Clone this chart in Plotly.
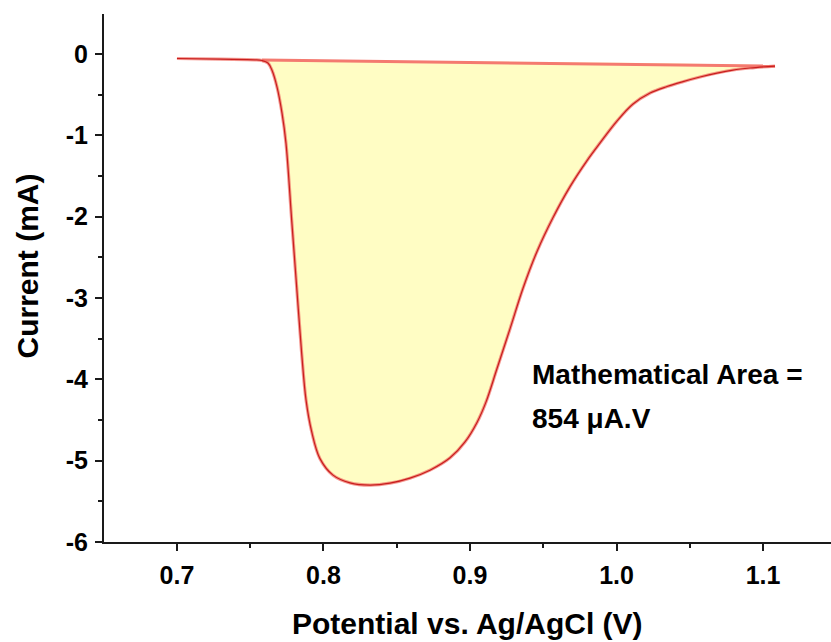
import plotly.graph_objects as go

# ---- data ----
potential = [0.700, 0.7294, 0.7532, 0.758, 0.7621, 0.7648, 0.7683, 0.7717, 0.7744,
             0.7783, 0.7817, 0.7851, 0.7881, 0.7919, 0.7976, 0.8065, 0.8181, 0.8317,
             0.8454, 0.8590, 0.8727, 0.8864, 0.8966, 0.9048, 0.9109, 0.9184, 0.9273,
             0.9362, 0.9457, 0.9567, 0.9683, 0.9799, 0.9887, 1.0003, 1.0113, 1.0229,
             1.0345, 1.0454, 1.0570, 1.0686, 1.0795, 1.0911, 1.1082]
current = [-0.055, -0.064, -0.071, -0.080, -0.111, -0.197, -0.406, -0.726, -1.095,
           -2.042, -2.866, -3.678, -4.256, -4.640, -4.975, -5.178, -5.273, -5.301,
           -5.277, -5.215, -5.117, -4.965, -4.770, -4.530, -4.280, -3.870, -3.380,
           -2.880, -2.430, -2.010, -1.630, -1.310, -1.095, -0.825, -0.615, -0.480,
           -0.400, -0.340, -0.283, -0.234, -0.197, -0.172, -0.148]

base_potential = [0.758, 1.1082]
base_current = [-0.075, -0.148]

x_ticks = [0.7, 0.8, 0.9, 1.0, 1.1]
x_ticktext = ["0.7", "0.8", "0.9", "1.0", "1.1"]
x_minor = [0.65, 0.75, 0.85, 0.95, 1.05]
top_major = [0.75, 0.85, 0.95, 1.05]
top_minor = [0.7, 0.8, 0.9, 1.0, 1.1]
y_ticks = [-6, -5, -4, -3, -2, -1, 0]
y_ticktext = ["-6", "-5", "-4", "-3", "-2", "-1", "0"]
y_minor = [-5.5, -4.5, -3.5, -2.5, -1.5, -0.5]
right_ticks = [0.2, 0.4, 0.6, 0.8]

x_range = [0.6502, 1.1464]
y_range = [-6, 0.492]

annot_line1 = "Mathematical Area ="
annot_line2 = "854 \u03bcA.V"
x_title = "Potential vs. Ag/AgCl (V)"
y_title = "Current (mA)"

FONT = "Liberation Sans, Arial, sans-serif"
AX = "#1a1a1a"
SMOOTH = 1.0

# fill polygon: curve from onset to end, closed along baseline
i0 = potential.index(base_potential[0])
fill_x = potential[i0:] + [base_potential[0]]
fill_y = current[i0:] + [base_current[0]]

fig = go.Figure()
fig.add_trace(go.Scatter(x=fill_x, y=fill_y, mode="lines", fill="toself",
                         fillcolor="#FFFDC4", line=dict(width=0, shape="spline", smoothing=SMOOTH),
                         hoverinfo="skip", showlegend=False))
fig.add_trace(go.Scatter(x=base_potential, y=base_current, mode="lines",
                         line=dict(color="#F47A70", width=3), showlegend=False))
fig.add_trace(go.Scatter(x=potential, y=current, mode="lines",
                         line=dict(color="rgba(240,110,100,0.7)", width=3.2, shape="spline", smoothing=SMOOTH),
                         showlegend=False))
fig.add_trace(go.Scatter(x=potential, y=current, mode="lines",
                         line=dict(color="#C81E1E", width=1.2, shape="spline", smoothing=SMOOTH),
                         showlegend=False))

tickfont = dict(family=FONT, size=25, color="black", weight="bold")

fig.update_layout(
    width=831, height=642, autosize=False,
    margin=dict(l=104, r=0, t=14, b=100, pad=0),
    paper_bgcolor="white", plot_bgcolor="white",
    showlegend=False,
    xaxis=dict(range=x_range, showgrid=False, zeroline=False,
               showline=True, linecolor=AX, linewidth=2,
               tickmode="array", tickvals=x_ticks, ticktext=x_ticktext,
               ticks="outside", ticklen=7, tickwidth=2, tickcolor=AX,
               minor=dict(tickmode="array", tickvals=x_minor, ticks="outside",
                          ticklen=4, tickwidth=2, tickcolor=AX),
               tickfont=tickfont, ticklabelstandoff=3),
    xaxis2=dict(range=x_range, overlaying="x", side="top", anchor="y",
                showgrid=False, zeroline=False,
                showline=True, linecolor=AX, linewidth=2,
                tickmode="array", tickvals=top_major, showticklabels=False,
                ticks="inside", ticklen=9, tickwidth=2, tickcolor=AX,
                minor=dict(tickmode="array", tickvals=top_minor, ticks="inside",
                           ticklen=4, tickwidth=2, tickcolor=AX)),
    yaxis=dict(range=y_range, showgrid=False, zeroline=False,
               showline=True, linecolor=AX, linewidth=2,
               tickmode="array", tickvals=y_ticks, ticktext=y_ticktext,
               ticks="outside", ticklen=7, tickwidth=2, tickcolor=AX,
               minor=dict(tickmode="array", tickvals=y_minor, ticks="outside",
                          ticklen=4, tickwidth=2, tickcolor=AX),
               tickfont=tickfont, ticklabelstandoff=2),
    yaxis2=dict(range=[0, 1], overlaying="y", side="right", anchor="x",
                showgrid=False, zeroline=False, showline=False,
                tickmode="array", tickvals=right_ticks, showticklabels=False,
                ticks="inside", ticklen=4, tickwidth=2, tickcolor=AX),
    annotations=[
        dict(text=annot_line1, xref="paper", yref="paper", x=0.586, y=0.318,
             xanchor="left", yanchor="middle", showarrow=False,
             font=dict(family=FONT, size=28, color="black", weight="bold")),
        dict(text=annot_line2, xref="paper", yref="paper", x=0.586, y=0.233,
             xanchor="left", yanchor="middle", showarrow=False,
             font=dict(family=FONT, size=28, color="black", weight="bold")),
        dict(text=x_title, xref="paper", yref="paper", x=0.5, y=-0.155,
             xanchor="center", yanchor="middle", showarrow=False,
             font=dict(family=FONT, size=30, color="black", weight="bold")),
        dict(text=y_title, xref="paper", yref="paper", x=-0.105, y=0.523,
             xanchor="center", yanchor="middle", showarrow=False, textangle=-90,
             font=dict(family=FONT, size=30, color="black", weight="bold")),
    ],
)

fig.write_html("out.html")
